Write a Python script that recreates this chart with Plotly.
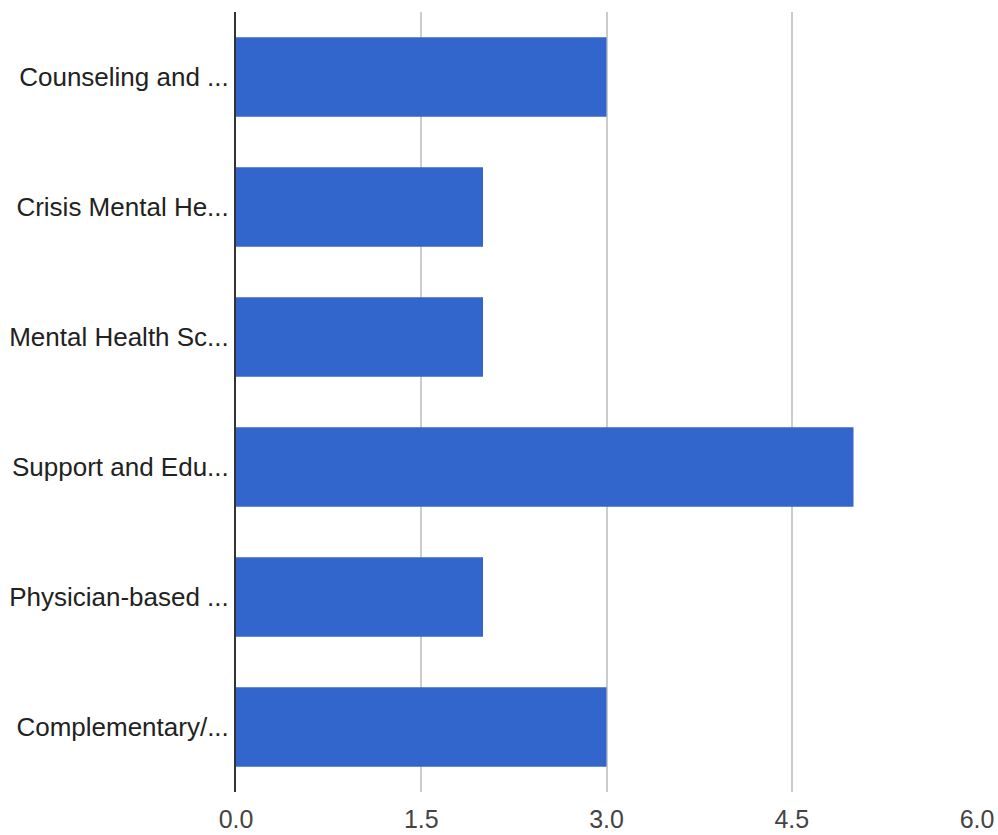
import plotly.graph_objects as go

categories = ["Counseling and ...", "Crisis Mental He...", "Mental Health Sc...",
              "Support and Edu...", "Physician-based ...", "Complementary/..."]
values = [3, 2, 2, 5, 2, 3]
tick_vals = [0, 1.5, 3, 4.5, 6]
tick_text = ["0.0", "1.5", "3.0", "4.5", "6.0"]

fig = go.Figure(go.Bar(
    x=values, y=categories, orientation="h",
    marker=dict(color="#3366CC", line=dict(width=0)),
))

fig.update_layout(
    width=998, height=835,
    margin=dict(l=236, r=21, t=12, b=43),
    paper_bgcolor="white", plot_bgcolor="white",
    bargap=0.39,
    showlegend=False,
    font=dict(family="Liberation Sans, Arial, sans-serif", size=26, color="#444444"),
)
fig.update_xaxes(
    range=[0, 6], tickvals=tick_vals, ticktext=tick_text,
    showgrid=True, gridcolor="#CCCCCC", gridwidth=1.5,
    zeroline=False, showline=False, automargin=False,
    ticks="", ticklabelstandoff=10,
    tickfont=dict(size=25, color="#444444"),
)
fig.update_yaxes(
    autorange="reversed", automargin=False,
    showgrid=False, zeroline=False,
    showline=True, linecolor="#333333", linewidth=2,
    ticks="", ticklabelstandoff=0,
    tickfont=dict(size=26, color="#222222"),
)

fig.write_html(
    "out.html",
    config={"displayModeBar": False},
    post_script="document.body.style.margin='0';document.body.style.overflow='hidden';",
)
